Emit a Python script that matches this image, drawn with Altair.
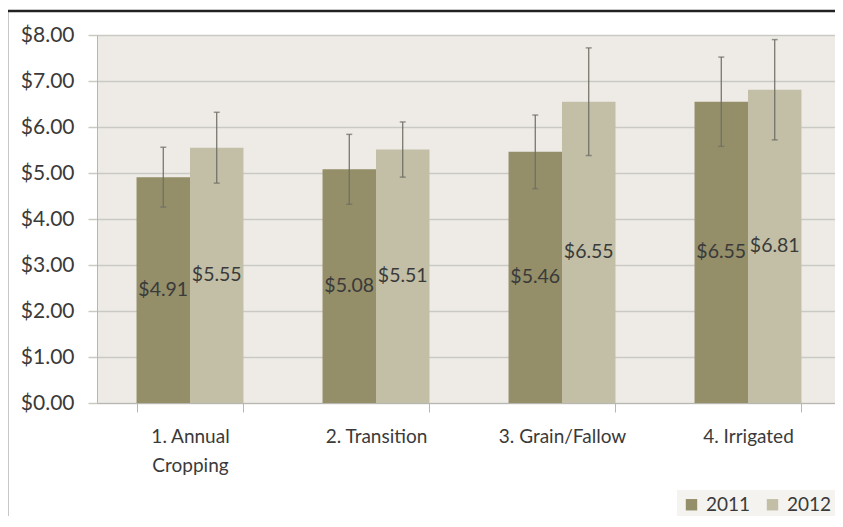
import altair as alt
import pandas as pd

categories = ["1. Annual Cropping", "2. Transition", "3. Grain/Fallow", "4. Irrigated"]
years = ["2011", "2012"]
values_2011 = [4.91, 5.08, 5.46, 6.55]
values_2012 = [5.55, 5.51, 6.55, 6.81]
err_2011 = [0.65, 0.76, 0.80, 0.97]
err_2012 = [0.77, 0.60, 1.17, 1.09]

rows = []
for i, c in enumerate(categories):
    for y, vals, errs in (("2011", values_2011, err_2011), ("2012", values_2012, err_2012)):
        rows.append({"cat": c, "year": y, "value": vals[i],
                     "lo": vals[i] - errs[i], "hi": vals[i] + errs[i],
                     "mid": vals[i] / 2, "label": f"${vals[i]:.2f}"})
df = pd.DataFrame(rows)

FONT = "Lato"
TXT = "#3a3a3a"
W, H = 738, 368

xscale = alt.Scale(domain=categories, range=[0, 744], paddingInner=0.425, paddingOuter=0.2125)
xenc = alt.X("cat:N", scale=xscale, sort=categories, title=None,
             axis=alt.Axis(labelAngle=0, tickBand="extent", tickSize=9,
                           tickColor="#b8b6b0", domainColor="#b8b6b0",
                           labelFont=FONT, labelFontSize=19, labelColor=TXT,
                           labelPadding=15, labelLineHeight=29, labelBaseline="top",
                           labelExpr="datum.value == '1. Annual Cropping' ? ['1. Annual', 'Cropping'] : datum.value"))
xoff = alt.XOffset("year:N", scale=alt.Scale(domain=years, paddingInner=0, paddingOuter=0))
yscale = alt.Scale(domain=[0, 8], nice=False)

base = alt.Chart(df)

bars = base.mark_bar().encode(
    x=xenc, xOffset=xoff,
    y=alt.Y("value:Q", scale=yscale, title=None,
            axis=alt.Axis(values=[0, 1, 2, 3, 4, 5, 6, 7, 8], format="$.2f",
                          grid=True, gridColor="#cbc9c3", gridWidth=1.5,
                          tickSize=9, tickColor="#cbc9c3", tickWidth=1.5,
                          domainColor="#b8b6b0",
                          labelFont=FONT, labelFontSize=21, labelColor=TXT,
                          labelPadding=14)),
    color=alt.Color("year:N", scale=alt.Scale(domain=years, range=["#948e69", "#c2bfa6"]),
                    legend=alt.Legend(title=None, orient="none", direction="horizontal",
                                      legendX=580, legendY=455,
                                      symbolType="square", symbolSize=130,
                                      symbolStrokeWidth=0, symbolOpacity=1,
                                      labelFont=FONT, labelFontSize=19, labelColor=TXT,
                                      labelOffset=5, columnPadding=12,
                                      fillColor="#f4f3f0", padding=5)),
)

rules = base.mark_rule(color="#6e6e64", strokeWidth=1.2).encode(
    x=alt.X("cat:N", scale=xscale, sort=categories), xOffset=xoff,
    y=alt.Y("lo:Q", scale=yscale), y2="hi:Q")
cap_lo = base.mark_tick(color="#6e6e64", thickness=1.5, size=6).encode(
    x=alt.X("cat:N", scale=xscale, sort=categories), xOffset=xoff,
    y=alt.Y("lo:Q", scale=yscale))
cap_hi = base.mark_tick(color="#6e6e64", thickness=1.5, size=6).encode(
    x=alt.X("cat:N", scale=xscale, sort=categories), xOffset=xoff,
    y=alt.Y("hi:Q", scale=yscale))

labels = base.mark_text(font=FONT, fontSize=19.5, color=TXT, baseline="middle").encode(
    x=alt.X("cat:N", scale=xscale, sort=categories), xOffset=xoff,
    y=alt.Y("mid:Q", scale=yscale), text="label:N")

frame_df = pd.DataFrame({"a": [0]})
top_line = alt.Chart(frame_df).mark_rule(color="#222222", strokeWidth=2.5).encode(
    x=alt.value(-90), x2=alt.value(760), y=alt.value(-24))
left_line = alt.Chart(frame_df).mark_rule(color="#222222", strokeWidth=2.5).encode(
    x=alt.value(-90), y=alt.value(-24), y2=alt.value(500))

chart = alt.layer(bars, rules, cap_lo, cap_hi, labels, top_line, left_line).properties(
    width=W, height=H,
    autosize=alt.AutoSizeParams(type="none"),
    padding={"left": 89, "top": 27, "right": 0, "bottom": 113},
    background="white",
).configure_view(fill="#eeebe7", stroke="#d0cec8", strokeWidth=1)

chart.save("out.html", embed_options={"renderer": "svg", "actions": False})
